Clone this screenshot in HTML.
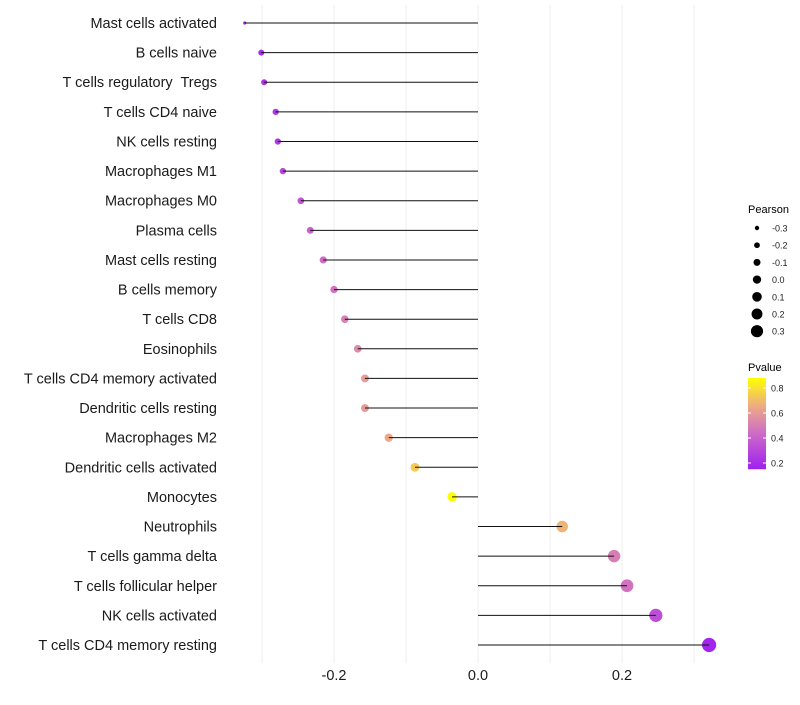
<!DOCTYPE html>
<html><head><meta charset="utf-8"><style>
body{margin:0;background:#fff;font-family:"Liberation Sans",sans-serif;}
text{white-space:pre;}
</style></head><body>
<svg id="chart" width="800" height="700" xmlns="http://www.w3.org/2000/svg">
<g id="grid"></g><g id="dots"></g><g id="marks"></g><g id="labels"></g><g id="legend"></g>
</svg>
<script>
const categories=["Mast cells activated","B cells naive","T cells regulatory  Tregs","T cells CD4 naive","NK cells resting","Macrophages M1","Macrophages M0","Plasma cells","Mast cells resting","B cells memory","T cells CD8","Eosinophils","T cells CD4 memory activated","Dendritic cells resting","Macrophages M2","Dendritic cells activated","Monocytes","Neutrophils","T cells gamma delta","T cells follicular helper","NK cells activated","T cells CD4 memory resting"];
const pearson=[-0.324,-0.301,-0.297,-0.281,-0.278,-0.271,-0.246,-0.233,-0.215,-0.2,-0.185,-0.167,-0.157,-0.157,-0.124,-0.0875,-0.036,0.117,0.189,0.207,0.247,0.321];
const pvalue=[0.18,0.2,0.22,0.24,0.25,0.3,0.36,0.4,0.44,0.46,0.5,0.55,0.6,0.6,0.65,0.74,0.9,0.68,0.5,0.46,0.33,0.17];
const xTicks=[-0.2,0,0.2];
const xTickLabels=["-0.2","0.0","0.2"];
const gridVals=[-0.3,-0.2,-0.1,0,0.1,0.2,0.3];
const sizeLegend=[-0.3,-0.2,-0.1,0.0,0.1,0.2,0.3];
const pLegendTicks=[0.2,0.4,0.6,0.8];
const NS="http://www.w3.org/2000/svg";
const svg=document.getElementById('chart');
const X=v=>478+v*720;
const Y=i=>23+i*(622/21);
const R=v=>v<-0.31?1.6:3+(v+0.3)*6.6;
function mk(t,a,p){const e=document.createElementNS(NS,t);for(const k in a)e.setAttribute(k,a[k]);p.appendChild(e);return e;}
function lerp(a,b,t){return a.map((x,i)=>Math.round(x+(b[i]-x)*t));}
const stops=[[0.15,[160,32,240]],[0.45,[207,111,196]],[0.65,[237,169,135]],[0.88,[255,255,0]]];
function col(p){p=Math.max(0.15,Math.min(0.88,p));for(let k=0;k<stops.length-1;k++){const[a,ca]=stops[k],[b,cb]=stops[k+1];if(p<=b)return `rgb(${lerp(ca,cb,(p-a)/(b-a))})`;}return 'rgb(255,255,0)';}
const grid=document.getElementById('grid'),dots=document.getElementById('dots'),marks=document.getElementById('marks'),labels=document.getElementById('labels'),leg=document.getElementById('legend');
gridVals.forEach(v=>{const l=mk('line',{x1:X(v),x2:X(v),y1:5,y2:663,stroke:'#efefef','stroke-width':1},grid);

});
categories.forEach((c,i)=>{
const y=Y(i);
const t=mk('text',{x:217,y:y+5,'text-anchor':'end','font-size':14.5,fill:'#1a1a1a'},labels);t.textContent=c;


const d=mk('circle',{cx:X(pearson[i]),cy:y,r:R(pearson[i]),fill:col(pvalue[i])},dots);


const l=mk('line',{x1:X(0),x2:X(pearson[i]),y1:y,y2:y,stroke:'#111','stroke-width':1},marks);


});
xTicks.forEach((v,i)=>{const t=mk('text',{x:X(v),y:680,'text-anchor':'middle','font-size':14.5,fill:'#1a1a1a'},labels);t.textContent=xTickLabels[i];

});
let t=mk('text',{x:748,y:213,'font-size':11,fill:'#000'},leg);t.textContent='Pearson';


sizeLegend.forEach((v,i)=>{const y=228+i*17.2;
const c=mk('circle',{cx:757,cy:y,r:2.2+(v+0.3)*6.5,fill:'#000'},leg);


const s=mk('text',{x:772,y:y+3.5,'font-size':9,fill:'#222'},leg);s.textContent=v.toFixed(1);

});
t=mk('text',{x:748,y:371,'font-size':11,fill:'#000'},leg);t.textContent='Pvalue';


const defs=mk('defs',{},svg);const g=mk('linearGradient',{id:'pg',x1:0,y1:1,x2:0,y2:0},defs);
for(let k=0;k<=10;k++){mk('stop',{offset:k/10,'stop-color':col(0.15+k*0.073)},g);}
const PY=p=>463-(p-0.2)*125;
const bar=mk('rect',{x:748,y:PY(0.88),width:18,height:PY(0.15)-PY(0.88),fill:'url(#pg)'},leg);


pLegendTicks.forEach(p=>{const y=PY(p);
mk('line',{x1:748,x2:751,y1:y,y2:y,stroke:'#fff'},leg);mk('line',{x1:763,x2:766,y1:y,y2:y,stroke:'#fff'},leg);
const s=mk('text',{x:771,y:y+3.5,'font-size':9,fill:'#222'},leg);s.textContent=p.toFixed(1);

});
</script>
</body></html>
